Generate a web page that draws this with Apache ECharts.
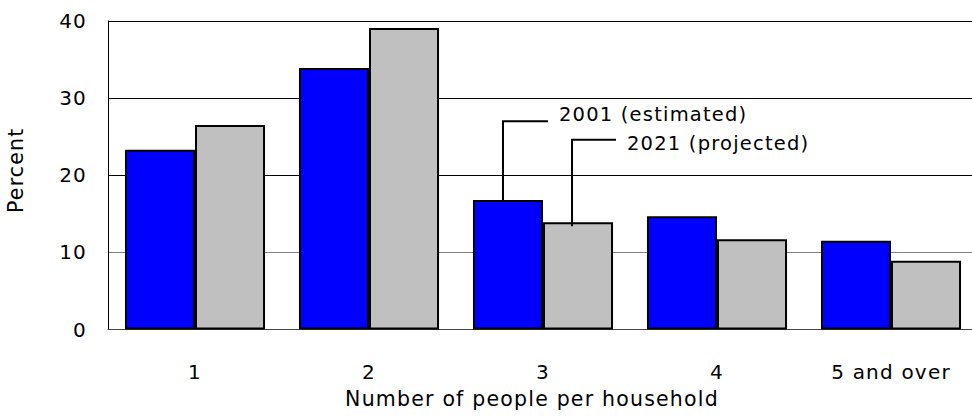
<!DOCTYPE html>
<html>
<head>
<meta charset="utf-8">
<title>Household size</title>
<script src="https://cdn.jsdelivr.net/npm/echarts@6/dist/echarts.min.js"></script>
<style>
  html, body { margin: 0; padding: 0; background: #fff; }
  #chart { width: 972px; height: 419px; }
  #chart svg text { letter-spacing: 1.2px; }
</style>
</head>
<body>
<div id="chart"></div>
<script>
// Household size distribution, 2001 estimate vs 2021 projection
const categories = ['1', '2', '3', '4', '5 and over'];
const estimated2001 = [23.3, 33.9, 16.8, 14.7, 11.5];
const projected2021 = [26.5, 39.1, 13.9, 11.7, 8.9];
const yTicks = [0, 10, 20, 30, 40];

const seriesNames = ['2001 (estimated)', '2021 (projected)'];
const FONT = 'DejaVu Sans, Verdana, sans-serif';
const CATEGORY_GAP = 0.195;

const chart = echarts.init(document.getElementById('chart'), null, { renderer: 'svg' });

const barStyle = (color) => ({ color: color, borderColor: '#000', borderWidth: 2 });

chart.setOption({
  animation: false,
  backgroundColor: '#fff',
  grid: { left: 108, top: 21, width: 870, height: 308.5, outerBoundsMode: 'none', containLabel: false },
  xAxis: {
    type: 'category',
    data: categories,
    name: 'Number of people per household',
    nameLocation: 'middle',
    nameGap: 59,
    nameTextStyle: { fontFamily: FONT, fontSize: 20.5, color: '#000', padding: [0, 22, 0, 0] },
    axisLine: { lineStyle: { color: '#444', width: 1 } },
    axisTick: { show: false },
    axisLabel: { fontFamily: FONT, fontSize: 20, color: '#000', margin: 32 }
  },
  yAxis: {
    type: 'value',
    min: yTicks[0],
    max: yTicks[yTicks.length - 1],
    interval: 10,
    name: 'Percent',
    nameLocation: 'middle',
    nameGap: 82,
    nameTextStyle: { fontFamily: FONT, fontSize: 20.5, color: '#000', padding: [0, 0, 0, 10] },
    axisLine: { show: true, lineStyle: { color: '#000', width: 1 } },
    axisTick: { show: false },
    axisLabel: { fontFamily: FONT, fontSize: 20, color: '#000', margin: 21 },
    splitLine: { show: true, lineStyle: { color: ['#000', '#808080', '#000', '#000', '#000'], width: 1 } }
  },
  series: [
    {
      name: seriesNames[0],
      type: 'bar',
      data: estimated2001,
      barGap: '0%',
      barCategoryGap: (CATEGORY_GAP * 100) + '%',
      itemStyle: barStyle('#0000ff')
    },
    {
      name: seriesNames[1],
      type: 'bar',
      data: projected2021,
      barGap: '0%',
      barCategoryGap: (CATEGORY_GAP * 100) + '%',
      itemStyle: barStyle('#c0c0c0')
    }
  ]
});

// Leader-line callouts naming the two series, attached to the third group
function drawCallouts() {
  const idx = 2;
  const cx = chart.convertToPixel({ xAxisIndex: 0 }, idx);
  const band = chart.convertToPixel({ xAxisIndex: 0 }, 1) - chart.convertToPixel({ xAxisIndex: 0 }, 0);
  const barW = band * (1 - CATEGORY_GAP) / 2;
  const callouts = [
    { x: cx - barW / 2 - 5, top: chart.convertToPixel({ yAxisIndex: 0 }, estimated2001[idx]), elbow: 27.0, arm: 45, text: seriesNames[0], dip: 0, dy: -7 },
    { x: cx + barW / 2 - 6, top: chart.convertToPixel({ yAxisIndex: 0 }, projected2021[idx]), elbow: 24.6, arm: 44, text: seriesNames[1], dip: 4, dy: 4 }
  ];
  const elements = [];
  callouts.forEach(function (c) {
    const ey = chart.convertToPixel({ yAxisIndex: 0 }, c.elbow);
    elements.push({
      type: 'polyline',
      shape: { points: [[c.x, c.top + c.dip], [c.x, ey], [c.x + c.arm, ey]] },
      style: { stroke: '#000', lineWidth: 2, fill: null },
      z: 10
    });
    elements.push({
      type: 'text',
      x: c.x + c.arm + 11,
      y: ey + c.dy,
      style: { text: c.text, fontFamily: FONT, fontSize: 19.5, fill: '#000', align: 'left', verticalAlign: 'middle' },
      z: 10
    });
  });
  chart.setOption({ graphic: elements });
}
drawCallouts();
</script>
</body>
</html>
